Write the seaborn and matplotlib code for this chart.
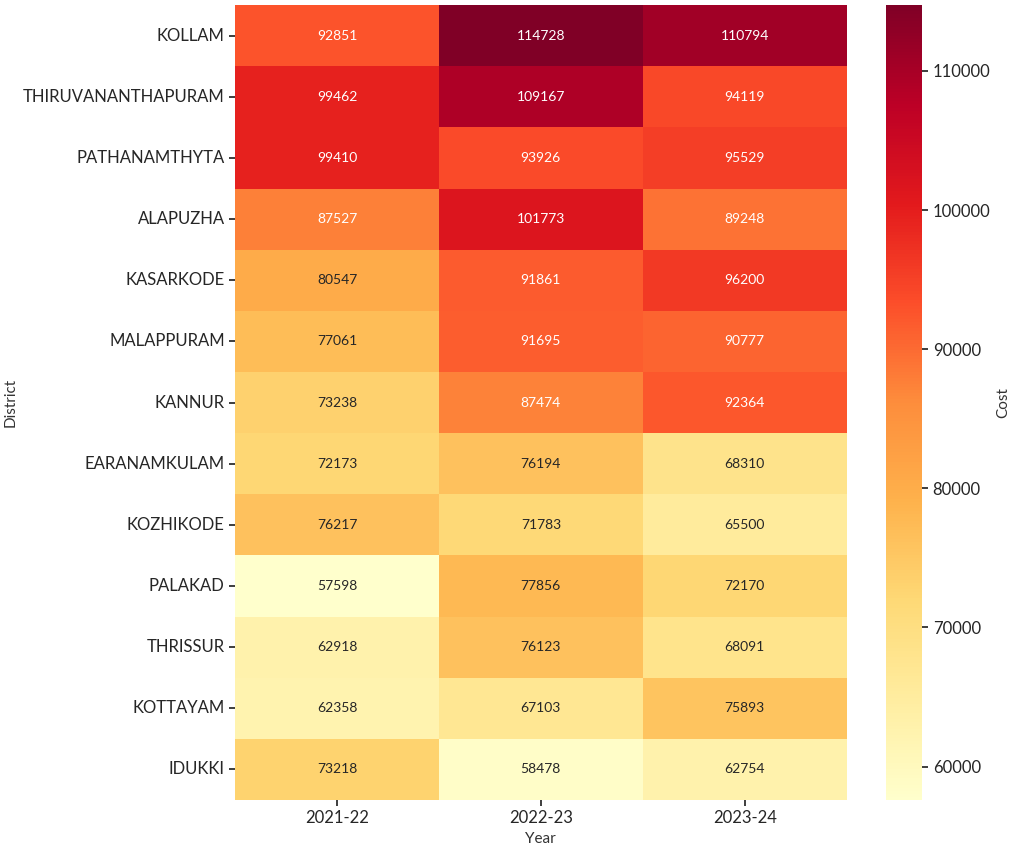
import matplotlib
matplotlib.use("Agg")
import matplotlib.pyplot as plt
import seaborn as sns
import pandas as pd
import numpy as np

districts = ["KOLLAM", "THIRUVANANTHAPURAM", "PATHANAMTHYTA", "ALAPUZHA", "KASARKODE",
             "MALAPPURAM", "KANNUR", "EARANAMKULAM", "KOZHIKODE", "PALAKAD",
             "THRISSUR", "KOTTAYAM", "IDUKKI"]
years = ["2021-22", "2022-23", "2023-24"]
cost_2021_22 = [92851, 99462, 99410, 87527, 80547, 77061, 73238, 72173, 76217, 57598, 62918, 62358, 73218]
cost_2022_23 = [114728, 109167, 93926, 101773, 91861, 91695, 87474, 76194, 71783, 77856, 76123, 67103, 58478]
cost_2023_24 = [110794, 94119, 95529, 89248, 96200, 90777, 92364, 68310, 65500, 72170, 68091, 75893, 62754]

df = pd.DataFrame({years[0]: cost_2021_22, years[1]: cost_2022_23, years[2]: cost_2023_24},
                  index=pd.Index(districts, name="District"))
df.columns.name = "Year"

sns.set_theme(style="white")
plt.rcParams['font.family'] = ['Lato', 'DejaVu Sans']

fig = plt.figure(figsize=(10.09, 8.52), dpi=100)
ax = fig.add_axes([0.233, 0.061, 0.606, 0.933])
cax = fig.add_axes([0.878, 0.061, 0.036, 0.933])
sns.heatmap(df, ax=ax, cbar_ax=cax, cmap="YlOrRd", annot=True, fmt="d",
            annot_kws={"fontsize": 10}, cbar_kws={"label": "Cost"})
ax.tick_params(axis='y', labelsize=12, rotation=0, length=4, left=True)
ax.tick_params(axis='x', labelsize=12, length=4, bottom=True)
ax.set_xlabel("Year", fontsize=11, color="#333333")
ax.set_ylabel("District", fontsize=11, color="#333333")
cax.tick_params(labelsize=12, length=4, right=True)
cax.set_ylabel("Cost", fontsize=11, color="#333333")
fig.savefig("out.png", dpi=100)
